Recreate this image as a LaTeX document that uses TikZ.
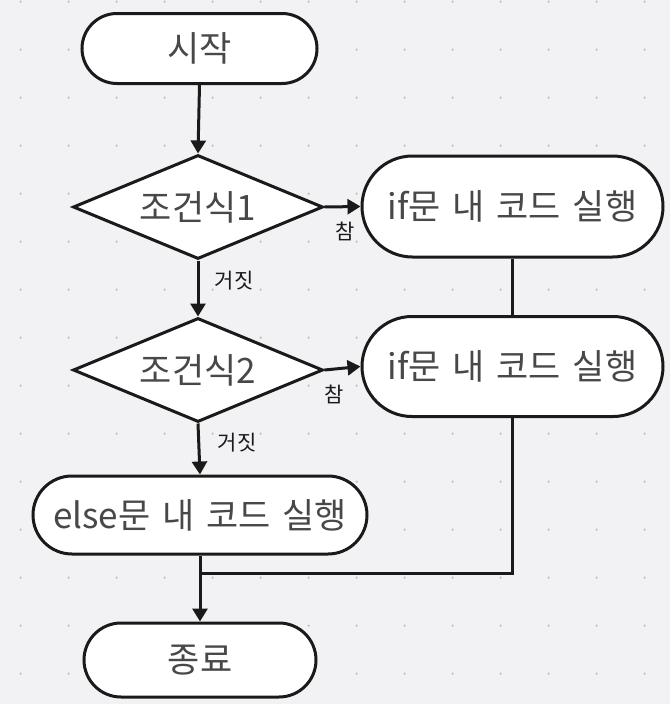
\documentclass[tikz,border=0pt]{standalone}
\usepackage{fontspec}
\setmainfont{Noto Sans CJK KR}
\newfontfamily\boxfont[WordSpace=1.5]{Noto Sans CJK KR}
\usetikzlibrary{shapes.geometric,shapes.misc,arrows.meta}
\definecolor{bg}{HTML}{F2F2F4}
\definecolor{dotc}{HTML}{C4C4C9}
\definecolor{ink}{HTML}{1A1A1A}
\tikzset{
  pill/.style={rounded rectangle, draw=ink, fill=white, line width=3pt, inner sep=0pt, font=\boxfont\fontsize{35}{40}\selectfont, text=ink!80},
  cond/.style={diamond, draw=ink, fill=white, line width=3pt, inner sep=0pt, aspect=2.4, minimum width=250pt, minimum height=104pt, font=\boxfont\fontsize{35}{40}\selectfont, text=ink!80},
  conn/.style={draw=ink, line width=3pt},
  arr/.style={conn, -{Triangle[length=13pt,width=15pt]}},
  lbl/.style={font=\fontsize{21}{24}\selectfont, text=ink, inner sep=0pt}
}
\begin{document}
\begin{tikzpicture}[x=1pt,y=-1pt]
\fill[bg] (0,0) rectangle (670,704);
\useasboundingbox (0,0) rectangle (670,704);
\foreach \i in {0,...,13} {
  \foreach \j in {0,...,14} {
    \fill[dotc] (20.7+48*\i,1.7+48*\j) circle (1.3pt);
  }
}
\node[pill, minimum width=235pt, minimum height=70pt] (start) at (199.5,48.5) {시작};
\node[cond] (d1) at (198,207) {조건식1};
\node[pill, minimum width=301pt, minimum height=101pt] (if1) at (512.5,206.5) {if문 내 코드 실행};
\node[cond] (d2) at (198,370) {조건식2};
\node[pill, minimum width=301pt, minimum height=100pt] (if2) at (512.5,366.5) {if문 내 코드 실행};
\node[pill, minimum width=334pt, minimum height=78pt] (else) at (200,515) {else문 내 코드 실행};
\node[pill, minimum width=232pt, minimum height=74pt] (end) at (200,660) {종료};
\coordinate (j) at (200,573);
\draw[arr] (start.south) -- (d1.north);
\draw[arr] (d1.east) -- (if1.west);
\draw[arr] (d1.south) -- (d2.north);
\draw[arr] (d2.east) -- (if2.west);
\draw[arr] (d2.south) -- (else.north);
\draw[arr] (else.south) -- (end.north);
\draw[conn] (if1.south) -- (if2.north);
\draw[conn] (if2.south) |- (j);
\node[lbl] (t1) at (345,231) {참};
\node[lbl] (f1) at (234,281) {거짓};
\node[lbl] (t2) at (334,394) {참};
\node[lbl] (f2) at (237,443) {거짓};
\end{tikzpicture}
\end{document}
